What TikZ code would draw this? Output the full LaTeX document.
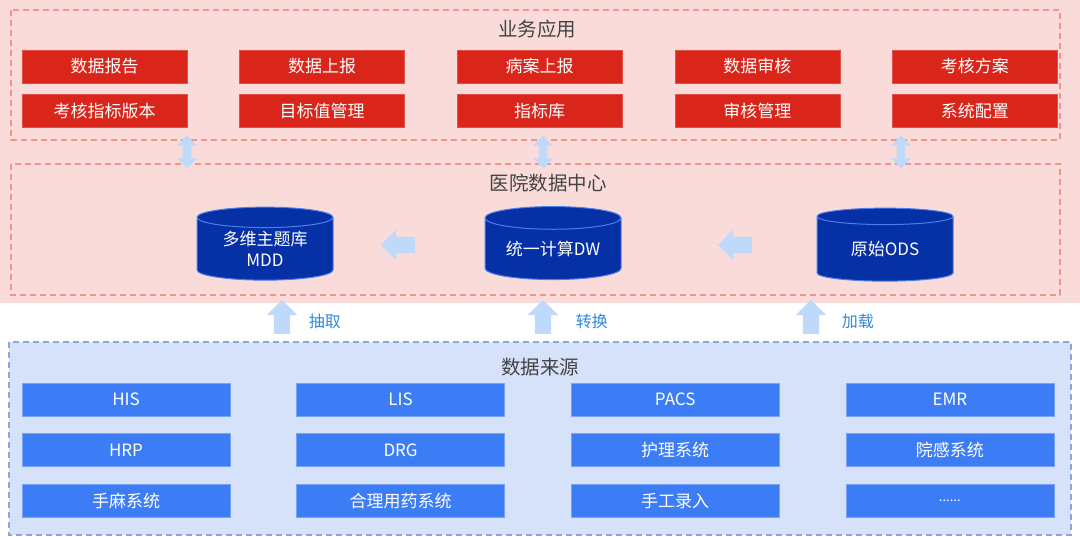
\documentclass[tikz,border=0pt]{standalone}
\usepackage{fontspec}
\setmainfont{Noto Sans CJK SC}
\usetikzlibrary{positioning, shapes.geometric, shapes.arrows}

\definecolor{pinkbg}{HTML}{F9DCDA}
\definecolor{pinkdash}{HTML}{F1948E}
\definecolor{appred}{HTML}{D9251A}
\definecolor{bluebg}{HTML}{D6E2FA}
\definecolor{bluedash}{HTML}{8DA7D8}
\definecolor{srcblue}{HTML}{3C7CF5}
\definecolor{dbblue}{HTML}{0530A6}
\definecolor{dbedge}{HTML}{4D7FE8}
\definecolor{flowblue}{HTML}{BFD9FB}
\definecolor{titlegray}{HTML}{444444}
\definecolor{labelblue}{HTML}{2E88DC}

\tikzset{
  appbox/.style={fill=appred, draw=appred!80!white, line width=0.6pt, minimum width=165pt,
    minimum height=33pt, inner sep=0pt, text=white, font=\fontsize{17}{20}\selectfont},
  srcbox/.style={fill=srcblue, draw=srcblue!70!white, line width=0.6pt, minimum width=208pt,
    minimum height=33pt, inner sep=0pt, text=white, font=\fontsize{17}{20}\selectfont},
  database/.style={cylinder, shape border rotate=90, aspect=0.24, fill=dbblue, draw=dbedge,
    line width=1pt, minimum width=136pt, minimum height=73pt, inner sep=0pt, text=white,
    align=center, font=\fontsize{17}{21}\selectfont},
  layertitle/.style={text=titlegray, font=\fontsize{19.5}{22}\selectfont},
  steplabel/.style={text=labelblue, font=\fontsize{16}{18}\selectfont},
  pinklayer/.style={draw=pinkdash, line width=1.1pt, dash pattern=on 6pt off 4pt},
  bluelayer/.style={draw=bluedash, fill=bluebg, line width=1.1pt, dash pattern=on 6pt off 4pt},
  syncarrow/.style={double arrow, fill=flowblue, shape border rotate=90, minimum height=33pt,
    minimum width=0pt, double arrow head extend=6pt, double arrow head indent=0pt, inner sep=4pt},
  leftarrow/.style={single arrow, fill=flowblue, shape border rotate=180, minimum height=34pt,
    minimum width=0pt, single arrow head extend=7pt, single arrow head indent=0pt, inner sep=8pt},
  uparrow/.style={single arrow, fill=flowblue, shape border rotate=90, minimum height=34pt,
    minimum width=0pt, single arrow head extend=7pt, single arrow head indent=0pt, inner sep=8pt}
}

\begin{document}
\begin{tikzpicture}[x=1pt, y=-1pt]
    \useasboundingbox (0,0) rectangle (1080,537);

    % Backgrounds and layer frames
    \fill[pinkbg] (0,0) rectangle (1080,303);
    \draw[pinklayer] (11,10) rectangle (1060,140);
    \draw[pinklayer] (11,164) rectangle (1060,295);
    \draw[bluelayer] (9,342) rectangle (1071,535);

    % Business applications
    \node[layertitle] (apptitle) at (537,29) {业务应用};
    \node[appbox] (report) at (104.5,66.5) {数据报告};
    \node[appbox, right=52pt of report] (upload) {数据上报};
    \node[appbox, right=52pt of upload] (casereport) {病案上报};
    \node[appbox, right=52pt of casereport] (audit) {数据审核};
    \node[appbox, right=52pt of audit] (scheme) {考核方案};
    \node[appbox, below=11pt of report] (version) {考核指标版本};
    \node[appbox, below=11pt of upload] (target) {目标值管理};
    \node[appbox, below=11pt of casereport] (indexlib) {指标库};
    \node[appbox, below=11pt of audit] (auditmgr) {审核管理};
    \node[appbox, below=11pt of scheme] (sysconf) {系统配置};

    % Sync arrows between layers
    \node[syncarrow] (sync1) at (187,152) {};
    \node[syncarrow] (sync2) at (543,152) {};
    \node[syncarrow] (sync3) at (901,152) {};

    % Hospital data center
    \node[layertitle] (dctitle) at (548,183) {医院数据中心};
    \node[database] (mdd) at (265,249) {多维主题库\\MDD};
    \node[database] (dw) at (553,249) {统一计算DW};
    \node[database] (ods) at (885,249) {原始ODS};
    \node[leftarrow] (dw2mdd) at (402,245) {};
    \node[leftarrow] (ods2dw) at (739,245) {};

    % Extract / transform / load
    \node[uparrow] (extract) at (282,321) {};
    \node[uparrow] (transform) at (543,321) {};
    \node[uparrow] (load) at (811,321) {};
    \node[steplabel, right=15pt of extract] {抽取};
    \node[steplabel, right=21pt of transform] {转换};
    \node[steplabel, right=19pt of load] {加载};

    % Data sources
    \node[layertitle] (srctitle) at (540,367) {数据来源};
    \node[srcbox] (his) at (126,399.5) {HIS};
    \node[srcbox, right=66pt of his] (lis) {LIS};
    \node[srcbox, right=66pt of lis] (pacs) {PACS};
    \node[srcbox, right=66pt of pacs] (emr) {EMR};
    \node[srcbox, below=17pt of his] (hrp) {HRP};
    \node[srcbox, below=17pt of lis] (drg) {DRG};
    \node[srcbox, below=17pt of pacs] (nursing) {护理系统};
    \node[srcbox, below=17pt of emr] (infect) {院感系统};
    \node[srcbox, below=17pt of hrp] (anesth) {手麻系统};
    \node[srcbox, below=17pt of drg] (drug) {合理用药系统};
    \node[srcbox, below=17pt of nursing] (manual) {手工录入};
    \node[srcbox, below=17pt of infect] (more) {\fontsize{13}{15}\selectfont ......};
\end{tikzpicture}
\end{document}
